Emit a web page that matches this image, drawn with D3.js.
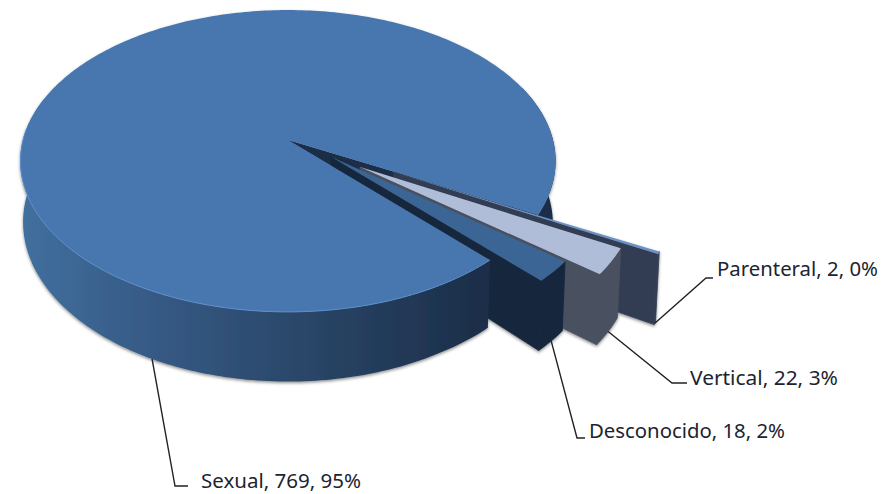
<!DOCTYPE html>
<html>
<head>
<meta charset="utf-8">
<script src="https://cdn.jsdelivr.net/npm/d3@7"></script>
<style>
  html, body { margin: 0; padding: 0; background: #fff; }
  svg { display: block; }
</style>
</head>
<body>
<div id="chart-area"></div>
<script>
var categories = ['Sexual', 'Parenteral', 'Vertical', 'Desconocido'];
var cases = [769, 2, 22, 18];
var percents = ['95%', '0%', '3%', '2%'];

var width = 883, height = 494;

// pulled-out distance of each slice, in pie radii, and how far (degrees) the pull is turned off the slice middle
var explode = [0, 0.44, 0.32, 0.194];
var explodeTurn = [0, 0, 0, -8];

var rad = d => d * Math.PI / 180;

// projection of the pie plane, this is what makes the back of the disc smaller
var center = { x: 288, y: 140 };
var persp = -0.139, scaleX = 265, scaleY = 148, wallDepth = 60, wallShrink = 0.99;

var svg = d3.select('#chart-area')
  .append('svg')
    .attr('width', width)
    .attr('height', height);

var defs = svg.append('defs');

var wallGrad = defs.append('linearGradient')
  .attr('id', 'sexual-wall')
  .attr('gradientUnits', 'userSpaceOnUse')
  .attr('x1', 18).attr('x2', 553).attr('y1', 0).attr('y2', 0);
wallGrad.append('stop').attr('offset', 0).attr('stop-color', '#41709f');
wallGrad.append('stop').attr('offset', 0.25).attr('stop-color', '#365a85');
wallGrad.append('stop').attr('offset', 0.55).attr('stop-color', '#294567');
wallGrad.append('stop').attr('offset', 0.85).attr('stop-color', '#1c2f4a');
wallGrad.append('stop').attr('offset', 1).attr('stop-color', '#1b2d47');

var shadow = defs.append('filter')
  .attr('id', 'soft-shadow')
  .attr('x', '-5%').attr('y', '-5%').attr('width', '110%').attr('height', '110%');
shadow.append('feGaussianBlur').attr('in', 'SourceGraphic').attr('stdDeviation', 0.6).attr('result', 'soft');
shadow.append('feDropShadow')
  .attr('in', 'soft')
  .attr('dx', 0).attr('dy', 1.5)
  .attr('stdDeviation', 1.5)
  .attr('flood-color', '#000')
  .attr('flood-opacity', 0.45);

// pie layout, d3 angle 0 is 12 o'clock, the slices run clockwise
var pieStart = rad(136.8);
var slices = d3.pie()
  .sort(null)
  .startAngle(pieStart)
  .endAngle(pieStart + 2 * Math.PI)(cases);

var colors = [
  { top: '#4777ae', wall: 'url(#sexual-wall)', cut: '#1b2d47' },
  { top: '#6c91c4', wall: '#323d52', cut: '#323d52' },
  { top: '#afbdd8', wall: '#4a5160', cut: '#4a5160' },
  { top: '#3a6595', wall: '#17283c', cut: '#17283c' }
];

var line = d3.line().x(p => p[0]).y(p => p[1]);

// screen position of a plane point
var project = (u, v) => {
  var w = 1 + persp * v;
  return [center.x + scaleX * u / w, center.y + scaleY * v / w];
};

// same point at the bottom of the wall, walls get a bit taller towards the right
var drop = (u, v) => {
  var p = project(u, v);
  var h = wallDepth / (1 + persp * v) * (1 + 0.08 * Math.max(0, u - 0.5));
  return [center.x + (p[0] - center.x) * wallShrink, p[1] + h];
};

// i is the slice index, a is the d3 angle, r is the distance from the slice tip
var planePoint = (i, a, r) => {
  var mid = (slices[i].startAngle + slices[i].endAngle) / 2 + rad(explodeTurn[i]);
  return [
    explode[i] * Math.sin(mid) + r * Math.sin(a),
    -explode[i] * Math.cos(mid) - r * Math.cos(a)
  ];
};

var arcAngles = (a0, a1) => {
  var n = Math.max(2, Math.ceil(Math.abs(a1 - a0) / rad(1)));
  return d3.range(n + 1).map(k => a0 + (a1 - a0) * k / n);
};

var topPath = (i, a0, a1) => {
  var pts = [project.apply(null, planePoint(i, a0, 0))];
  arcAngles(a0, a1).forEach(a => pts.push(project.apply(null, planePoint(i, a, 1))));
  return line(pts) + 'Z';
};

var wallPath = (i, a0, a1) => {
  var angles = arcAngles(a0, a1);
  var upper = angles.map(a => project.apply(null, planePoint(i, a, 1)));
  var lower = angles.map(a => drop.apply(null, planePoint(i, a, 1))).reverse();
  return line(upper.concat(lower)) + 'Z';
};

var cutPath = (i, a) => line([
  project.apply(null, planePoint(i, a, 0)),
  project.apply(null, planePoint(i, a, 1)),
  drop.apply(null, planePoint(i, a, 1)),
  drop.apply(null, planePoint(i, a, 0))
]) + 'Z';

var rimPath = (i, a0, a1) => line(arcAngles(a0, a1).map(a => project.apply(null, planePoint(i, a, 1))));

var pieGroup = svg.append('g').attr('filter', 'url(#soft-shadow)');

var addPath = (d, fill) => pieGroup.append('path').attr('d', d).attr('fill', fill);

var sexual = slices[0];

// back part of the big slice, its cut face shows in the notch
addPath(wallPath(0, sexual.endAngle - rad(50), sexual.endAngle), colors[0].wall);
addPath(cutPath(0, sexual.endAngle), colors[0].cut);
addPath(topPath(0, sexual.startAngle, sexual.endAngle), colors[0].top);

// pulled out slices, far one first
// the walls get a thin stroke so no light seam shows where cut face and outer wall meet
[1, 2, 3].forEach(i => {
  var s = slices[i];
  addPath(cutPath(i, s.endAngle), colors[i].cut)
    .attr('stroke', colors[i].cut).attr('stroke-width', 0.8);
  addPath(wallPath(i, s.startAngle, s.endAngle), colors[i].wall)
    .attr('stroke', colors[i].wall).attr('stroke-width', 0.8);
  addPath(topPath(i, s.startAngle, s.endAngle), colors[i].top);
});

// front part of the big slice covers the feet of the pulled out ones
addPath(wallPath(0, sexual.startAngle, sexual.startAngle + rad(140)), colors[0].wall);
addPath(topPath(0, sexual.startAngle, sexual.startAngle + rad(150)), colors[0].top);

pieGroup.append('path')
  .attr('d', rimPath(0, sexual.startAngle, sexual.startAngle + rad(138)))
  .attr('fill', 'none')
  .attr('stroke', '#5f90cc')
  .attr('stroke-width', 1);

pieGroup.append('path')
  .attr('d', rimPath(1, slices[1].startAngle, slices[1].endAngle))
  .attr('fill', 'none')
  .attr('stroke', '#6c91c4')
  .attr('stroke-width', 1);

// labels, with the elbow of the leader and where the text goes
var labelLayout = [
  { anchor: rad(207), elbow: [175, 486], end: [188, 486], x: 201, y: 488, w: 160 },
  { anchor: null, elbow: [706, 278], end: [713, 278], x: 717, y: 276, w: 161 },
  { anchor: null, elbow: [672, 383], end: [687, 383], x: 690, y: 385, w: 148 },
  { anchor: null, elbow: [577, 438], end: [585, 438], x: 589, y: 438, w: 196 }
];

labelLayout.forEach((l, i) => {
  var s = slices[i];
  var a = l.anchor === null ? (s.startAngle + s.endAngle) / 2 : l.anchor;
  var start = drop.apply(null, planePoint(i, a, 1));

  svg.append('path')
    .attr('d', line([start, l.elbow, l.end]))
    .attr('fill', 'none')
    .attr('stroke', '#222')
    .attr('stroke-width', 1.4);

  svg.append('text')
    .attr('x', l.x)
    .attr('y', l.y)
    .attr('font-family', '"Noto Sans", sans-serif')
    .attr('font-size', '19px')
    .attr('fill', '#1c2430')
    .attr('textLength', l.w)
    .attr('lengthAdjust', 'spacingAndGlyphs')
    .text(categories[i] + ', ' + cases[i] + ', ' + percents[i]);
});
</script>
</body>
</html>
